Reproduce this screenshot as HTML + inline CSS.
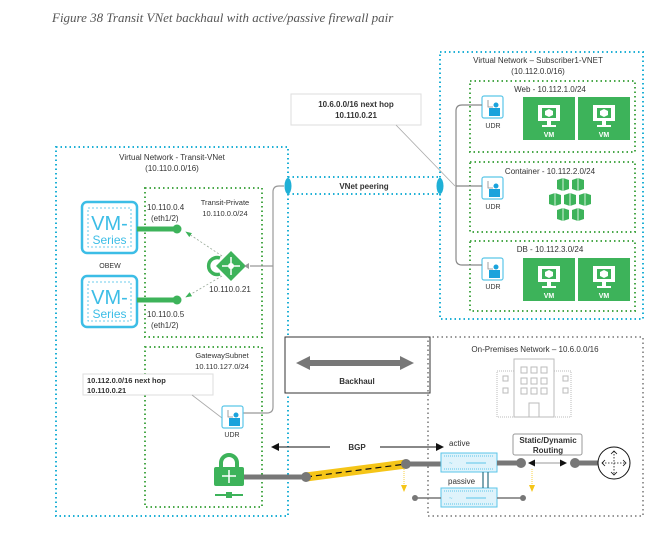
<!DOCTYPE html>
<html><head><meta charset="utf-8"><style>
html,body{margin:0;padding:0;background:#fff;width:661px;height:538px;overflow:hidden}
svg{display:block}
text{font-family:"Liberation Sans",sans-serif;fill:#333}
</style></head><body>
<svg width="661" height="538" viewBox="0 0 661 538" xmlns="http://www.w3.org/2000/svg">
<defs>
<marker id="ah" markerWidth="8" markerHeight="8" refX="7" refY="4" orient="auto"><path d="M0,0 L8,4 L0,8 z" fill="#111"/></marker>
<marker id="gh" markerWidth="8" markerHeight="8" refX="7" refY="4" orient="auto"><path d="M0,1 L8,4 L0,7 z" fill="#3db35a"/></marker>
<g id="vm"><rect x="0" y="0" width="52" height="43" fill="#3db35a"/><rect x="15" y="8" width="22" height="16" fill="#fff"/><rect x="19" y="11" width="14" height="10" fill="#3db35a"/><path d="M26,12 l4,2 v4 l-4,2 l-4,-2 v-4z" fill="#fff"/><rect x="24" y="24" width="4" height="4" fill="#fff"/><rect x="19" y="28" width="14" height="2" fill="#fff"/><text x="26" y="40" font-size="7" font-weight="bold" text-anchor="middle" style="fill:#fff">VM</text></g>
<g id="udr"><rect x="0" y="0" width="21" height="22" rx="2" fill="#fff" stroke="#5bc6e8" stroke-width="1.2"/><rect x="7" y="12" width="11" height="8" fill="#1aa3dc"/><circle cx="14" cy="9" r="2.5" fill="#1aa3dc"/><path d="M6,4 v7 h5" fill="none" stroke="#888" stroke-width="0.8"/></g>
<g id="vms"><rect x="0" y="0" width="55" height="51" rx="5" fill="#fff" stroke="#3cbde6" stroke-width="2.5"/><rect x="6" y="6" width="43" height="39" fill="none" stroke="#3cbde6" stroke-width="0.8" stroke-dasharray="2,2"/><text x="27.5" y="28" font-size="20" text-anchor="middle" style="fill:#3cbde6">VM-</text><text x="27.5" y="42" font-size="12" text-anchor="middle" style="fill:#3cbde6">Series</text></g>
<g id="fw"><rect x="0" y="0" width="56" height="19" fill="#dff3fb" stroke="#5bc6e8" stroke-width="1"/><line x1="3" y1="3" x2="53" y2="3" stroke="#5bc6e8" stroke-dasharray="1,1"/><line x1="3" y1="16" x2="53" y2="16" stroke="#5bc6e8" stroke-dasharray="1,1"/><line x1="25" y1="10" x2="45" y2="10" stroke="#5bc6e8"/><text x="8" y="12" font-size="6" style="fill:#5bc6e8">~</text></g>
<g id="cube"><path d="M0,2 l6,-2 l6,2 v9 l-6,2 l-6,-2z" fill="#3db35a"/><path d="M6,0 v13" stroke="#fff" stroke-width="0.8"/></g>
</defs>

<text x="52" y="22" font-style="italic" font-size="13" style="font-family:'Liberation Serif',serif;fill:#555">Figure 38    Transit VNet backhaul with active/passive firewall pair</text>

<!-- Subscriber VNet -->
<rect x="440" y="52" width="203" height="267" fill="none" stroke="#1fb0d6" stroke-width="2" stroke-dasharray="1.5,3"/>
<text x="538" y="63" font-size="8" text-anchor="middle">Virtual Network – Subscriber1-VNET</text>
<text x="538" y="74" font-size="8" text-anchor="middle">(10.112.0.0/16)</text>
<g fill="none" stroke="#4aa84a" stroke-width="2" stroke-dasharray="1.5,3">
<rect x="470" y="81" width="165" height="71"/><rect x="470" y="162" width="165" height="70"/><rect x="470" y="241" width="165" height="70"/>
<rect x="145" y="188" width="117" height="149"/><rect x="145" y="347" width="117" height="160"/>
</g>
<text x="550" y="92" font-size="8" text-anchor="middle">Web - 10.112.1.0/24</text>
<text x="550" y="174" font-size="8" text-anchor="middle">Container - 10.112.2.0/24</text>
<text x="550" y="252" font-size="8" text-anchor="middle">DB - 10.112.3.0/24</text>
<use href="#udr" x="482" y="96"/><text x="493" y="128" font-size="7" text-anchor="middle">UDR</text>
<use href="#udr" x="482" y="177"/><text x="493" y="209" font-size="7" text-anchor="middle">UDR</text>
<use href="#udr" x="482" y="258"/><text x="493" y="289" font-size="7" text-anchor="middle">UDR</text>
<use href="#vm" x="523" y="97"/><use href="#vm" x="578" y="97"/>
<use href="#vm" x="523" y="258"/><use href="#vm" x="578" y="258"/>
<use href="#cube" x="557" y="178"/><use href="#cube" x="572" y="178"/>
<use href="#cube" x="549" y="193"/><use href="#cube" x="564" y="193"/><use href="#cube" x="579" y="193"/>
<use href="#cube" x="557" y="208"/><use href="#cube" x="572" y="208"/>
<!-- subscriber gray line -->
<path d="M482,105 h-20 q-6,0 -6,6 v148 q0,6 6,6 h20 M456,186 h26" fill="none" stroke="#888" stroke-width="1.2"/>
<rect x="291" y="94" width="130" height="31" fill="#fff" stroke="#ddd"/>
<text x="356" y="107" font-size="8" font-weight="bold" text-anchor="middle">10.6.0.0/16 next hop</text>
<text x="356" y="118" font-size="8" font-weight="bold" text-anchor="middle">10.110.0.21</text>
<line x1="396" y1="125" x2="455" y2="186" stroke="#aaa" stroke-width="0.8"/>

<!-- Transit VNet -->
<rect x="56" y="147" width="232" height="369" fill="none" stroke="#1fb0d6" stroke-width="2" stroke-dasharray="1.5,3"/>
<text x="172" y="160" font-size="8" text-anchor="middle">Virtual Network - Transit-VNet</text>
<text x="172" y="171" font-size="8" text-anchor="middle">(10.110.0.0/16)</text>
<rect x="288" y="177" width="152" height="17" fill="none" stroke="#1fb0d6" stroke-width="2" stroke-dasharray="1.5,3"/>
<text x="364" y="189" font-size="8" font-weight="bold" text-anchor="middle">VNet peering</text>
<ellipse cx="288" cy="186" rx="3.5" ry="8" fill="#1fb0d6"/><ellipse cx="440" cy="186" rx="3.5" ry="8" fill="#1fb0d6"/>
<text x="225" y="205" font-size="7.5" text-anchor="middle">Transit-Private</text>
<text x="225" y="216" font-size="7.5" text-anchor="middle">10.110.0.0/24</text>
<use href="#vms" x="82" y="202"/><use href="#vms" x="82" y="276"/>
<text x="110" y="268" font-size="7" text-anchor="middle">OBEW</text>
<text x="147" y="210" font-size="8">10.110.0.4</text><text x="151" y="221" font-size="8">(eth1/2)</text>
<text x="147" y="317" font-size="8">10.110.0.5</text><text x="151" y="328" font-size="8">(eth1/2)</text>
<g stroke="#3db35a" stroke-width="5"><line x1="137" y1="229" x2="177" y2="229"/><line x1="137" y1="300" x2="177" y2="300"/></g>
<circle cx="177" cy="229" r="4.5" fill="#3db35a"/><circle cx="177" cy="300" r="4.5" fill="#3db35a"/>
<g stroke="#9a9" stroke-width="0.8" stroke-dasharray="2,2" fill="none"><line x1="222" y1="256" x2="186" y2="232" marker-end="url(#gh)"/><line x1="222" y1="276" x2="186" y2="297" marker-end="url(#gh)"/></g>
<path d="M231,251 l15,15 l-15,15 l-15,-15z" fill="#3db35a"/>
<path d="M220,258 a8.5,8.5 0 1 0 0,16" fill="none" stroke="#3db35a" stroke-width="3.5"/>
<path d="M231,257 v18 M222,266 h18" stroke="#fff" stroke-width="1.5"/>
<circle cx="231" cy="266" r="3" fill="#fff"/>
<text x="230" y="292" font-size="8" text-anchor="middle">10.110.0.21</text>
<path d="M284,186 h-5 q-6,0 -6,6 v174 v41 q0,6 -6,6 h-24 M273,266 h-23" fill="none" stroke="#999" stroke-width="1.2"/>
<path d="M249,263 l-5,3 l5,3z" fill="#999"/>
<text x="222" y="358" font-size="7.5" text-anchor="middle">GatewaySubnet</text>
<text x="222" y="369" font-size="7.5" text-anchor="middle">10.110.127.0/24</text>
<rect x="83" y="374" width="130" height="21" fill="#fff" stroke="#ddd"/>
<text x="87" y="383" font-size="7.5" font-weight="bold">10.112.0.0/16 next hop</text>
<text x="87" y="393" font-size="7.5" font-weight="bold">10.110.0.21</text>
<line x1="192" y1="395" x2="222" y2="418" stroke="#aaa" stroke-width="0.8"/>
<use href="#udr" x="222" y="406"/><text x="232" y="437" font-size="7" text-anchor="middle">UDR</text>

<!-- Backhaul -->
<rect x="285" y="337" width="145" height="56" fill="#fff" stroke="#333" stroke-width="1"/>
<path d="M296,363 l14,-7 v4 h90 v-4 l14,7 l-14,7 v-4 h-90 v4z" fill="#777"/>
<text x="357" y="384" font-size="8" font-weight="bold" text-anchor="middle">Backhaul</text>

<!-- On-prem -->
<rect x="428" y="337" width="215" height="179" fill="none" stroke="#777" stroke-width="1.5" stroke-dasharray="1.5,3"/>
<text x="535" y="352" font-size="8" text-anchor="middle">On-Premises Network – 10.6.0.0/16</text>
<g fill="none" stroke="#bbb" stroke-width="1">
<rect x="514" y="359" width="40" height="58"/><rect x="497" y="371" width="17" height="46" stroke-dasharray="1,1"/><rect x="554" y="371" width="17" height="46" stroke-dasharray="1,1"/>
<rect x="521" y="367" width="6" height="6"/><rect x="531" y="367" width="6" height="6"/><rect x="541" y="367" width="6" height="6"/>
<rect x="521" y="378" width="6" height="6"/><rect x="531" y="378" width="6" height="6"/><rect x="541" y="378" width="6" height="6"/>
<rect x="521" y="388" width="6" height="6"/><rect x="531" y="388" width="6" height="6"/><rect x="541" y="388" width="6" height="6"/>
<rect x="503" y="376" width="5" height="5"/><rect x="503" y="388" width="5" height="5"/><rect x="563" y="376" width="5" height="5"/><rect x="563" y="388" width="5" height="5"/>
<rect x="529" y="403" width="10" height="14"/>
</g>

<!-- BGP -->
<line x1="330" y1="447" x2="272" y2="447" stroke="#111" stroke-width="1" marker-end="url(#ah)"/>
<line x1="380" y1="447" x2="443" y2="447" stroke="#111" stroke-width="1" marker-end="url(#ah)"/>
<text x="357" y="450" font-size="8" font-weight="bold" text-anchor="middle">BGP</text>
<text x="449" y="446" font-size="8">active</text>
<text x="448" y="484" font-size="8">passive</text>

<!-- lock -->
<path d="M221,468 v-5 a8,8 0 0 1 16,0 v5" fill="none" stroke="#3db35a" stroke-width="4"/>
<rect x="214" y="467" width="30" height="19" rx="2" fill="#3db35a"/>
<path d="M229,470 v13 M222,476 h14" stroke="#fff" stroke-width="1.5"/>
<rect x="226" y="492" width="6" height="6" fill="#3db35a"/><rect x="215" y="494" width="28" height="2" fill="#3db35a"/>

<line x1="244" y1="477" x2="306" y2="477" stroke="#777" stroke-width="5"/>
<line x1="306" y1="477" x2="406" y2="464" stroke="#f5c518" stroke-width="9"/>
<line x1="306" y1="477" x2="406" y2="464" stroke="#111" stroke-width="1.2" stroke-dasharray="6,4"/>
<circle cx="306" cy="477" r="5" fill="#777"/>
<line x1="406" y1="464" x2="441" y2="464" stroke="#777" stroke-width="5"/>
<circle cx="406" cy="464" r="5" fill="#777"/>
<use href="#fw" x="441" y="453"/>
<use href="#fw" x="441" y="488"/>
<line x1="483" y1="472" x2="483" y2="488" stroke="#2a6d80" stroke-width="1.2"/><line x1="488" y1="472" x2="488" y2="488" stroke="#2a6d80" stroke-width="1.2"/>
<line x1="497" y1="463" x2="521" y2="463" stroke="#777" stroke-width="5"/>
<circle cx="521" cy="463" r="5" fill="#777"/>
<line x1="415" y1="498" x2="441" y2="498" stroke="#777" stroke-width="1.5"/><circle cx="415" cy="498" r="3" fill="#777"/>
<line x1="497" y1="498" x2="523" y2="498" stroke="#777" stroke-width="1.5"/><circle cx="523" cy="498" r="3" fill="#777"/>
<line x1="404" y1="469" x2="404" y2="485" stroke="#f5c518" stroke-width="0.8" stroke-dasharray="1,1"/>
<line x1="532" y1="469" x2="532" y2="485" stroke="#f5c518" stroke-width="0.8" stroke-dasharray="1,1"/>
<path d="M401,485 h6 l-3,7z M529,485 h6 l-3,7z" fill="#f5c518"/>
<rect x="513" y="434" width="69" height="21" rx="2" fill="#fff" stroke="#999"/>
<text x="548" y="443" font-size="8" font-weight="bold" text-anchor="middle">Static/Dynamic</text>
<text x="548" y="453" font-size="8" font-weight="bold" text-anchor="middle">Routing</text>
<line x1="530" y1="463" x2="565" y2="463" stroke="#999" stroke-width="1"/>
<path d="M528,463 l7,-3.5 v7z M567,463 l-7,-3.5 v7z" fill="#111"/>
<line x1="575" y1="463" x2="598" y2="463" stroke="#777" stroke-width="5"/>
<circle cx="575" cy="463" r="5" fill="#777"/>
<circle cx="614" cy="463" r="16" fill="#fff" stroke="#111" stroke-width="1"/>
<g stroke="#111" stroke-width="0.8" stroke-dasharray="1.5,1.5" fill="none"><path d="M614,451 v24 M602,463 h24"/></g>
<path d="M611,454 l3,-3 l3,3 M611,472 l3,3 l3,-3 M605,460 l-3,3 l3,3 M623,460 l3,3 l-3,3" fill="none" stroke="#111" stroke-width="0.8"/>
</svg>
</body></html>
